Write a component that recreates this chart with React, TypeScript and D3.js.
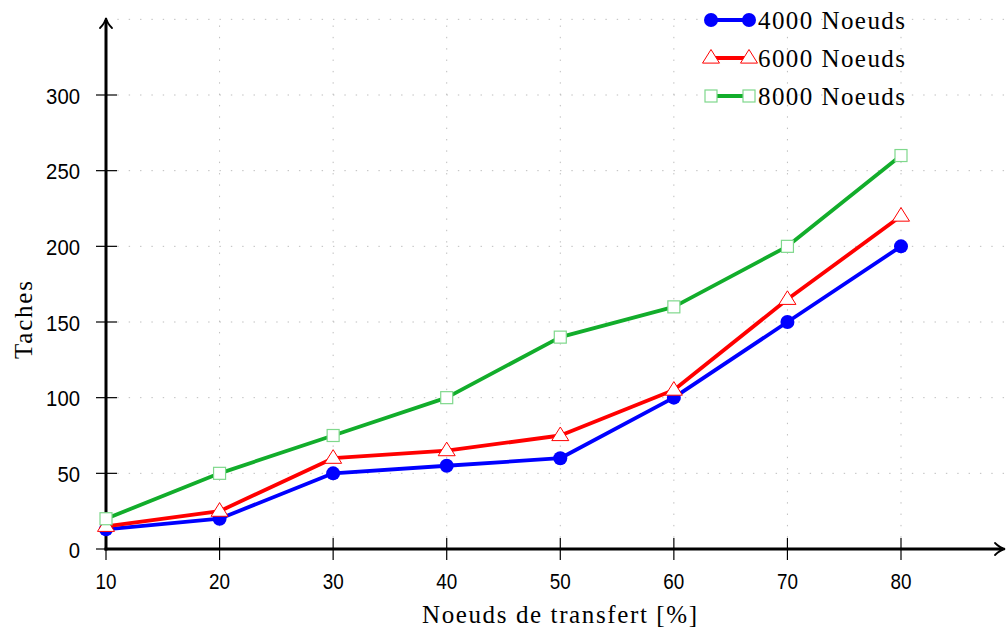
import React from "react";
import * as d3 from "d3";

const xValues = [10, 20, 30, 40, 50, 60, 70, 80];
const s4000 = [13, 20, 50, 55, 60, 100, 150, 200];
const s6000 = [15, 25, 60, 65, 75, 105, 165, 220];
const s8000 = [20, 50, 75, 100, 140, 160, 200, 260];
const seriesNames = ["4000 Noeuds", "6000 Noeuds", "8000 Noeuds"];
const yTicks = [0, 50, 100, 150, 200, 250, 300];
const yGrid = [0, 50, 100, 150, 200, 250, 300, 350];

const W = 1007;
const H = 639;

export default function App() {
  const x = d3.scaleLinear().domain([10, 80]).range([106, 901]);
  const y = d3.scaleLinear().domain([0, 300]).range([549, 95]);
  const xEnd = 1005;
  const yTop = 18;

  const series = [
    { name: seriesNames[0], data: s4000, color: "#0000ff", marker: "circle" },
    { name: seriesNames[1], data: s6000, color: "#ff0000", marker: "triangle" },
    { name: seriesNames[2], data: s8000, color: "#12ad2b", marker: "square" },
  ];

  const line = d3
    .line<number>()
    .x((_, i) => x(xValues[i]))
    .y((d) => y(d));

  const marker = (kind: string, cx: number, cy: number, key: string) => {
    if (kind === "circle")
      return <circle key={key} cx={cx} cy={cy} r={7} fill="#0000ff" />;
    if (kind === "triangle") {
      const s = 8.5;
      const p = `M${cx},${cy - s} L${cx + s},${cy + s * 0.6} L${cx - s},${cy + s * 0.6} Z`;
      return <path key={key} d={p} fill="white" stroke="#ff0000" strokeWidth={1} />;
    }
    return (
      <rect key={key} x={cx - 6} y={cy - 6} width={12} height={12} fill="white" stroke="#7fd88c" strokeWidth={1.2} />
    );
  };

  const serif = "'Liberation Serif', 'DejaVu Serif', serif";
  const sans = "'Liberation Sans', 'DejaVu Sans', sans-serif";
  const gridColor = "#bdbdbd";
  const dash = "1.4 9.95";

  const arrowUp = `M${106 - 6},${yTop + 10} Q${106 - 1},${yTop + 5} ${106},${yTop} Q${106 + 1},${yTop + 5} ${106 + 6},${yTop + 10}`;
  const arrowRightPath = `M${xEnd - 10},${549 - 6} Q${xEnd - 5},${549 - 1} ${xEnd},549 Q${xEnd - 5},${549 + 1} ${xEnd - 10},${549 + 6}`;

  return (
    <svg width={W} height={H} style={{ position: "absolute", left: 0, top: 0, background: "white" }}>
      {xValues.map((v) => (
        <line key={"gx" + v} x1={x(v)} x2={x(v)} y1={549} y2={y(350)} stroke={gridColor} strokeWidth={1} strokeDasharray={dash} />
      ))}
      {yGrid.map((v) => (
        <line key={"gy" + v} x1={106} x2={W} y1={y(v)} y2={y(v)} stroke={gridColor} strokeWidth={1} strokeDasharray={dash} />
      ))}

      <line x1={106} x2={106} y1={550.5} y2={yTop + 2} stroke="black" strokeWidth={3} />
      <line x1={104.5} x2={xEnd - 2} y1={549} y2={549} stroke="black" strokeWidth={3} />
      <path d={arrowUp} fill="none" stroke="black" strokeWidth={1.8} strokeLinecap="round" />
      <path d={arrowRightPath} fill="none" stroke="black" strokeWidth={1.8} strokeLinecap="round" />

      {xValues.map((v) => (
        <line key={"tx" + v} x1={x(v)} x2={x(v)} y1={538} y2={560} stroke="black" strokeWidth={1.2} />
      ))}
      {yTicks.map((v) => (
        <line key={"ty" + v} x1={96} x2={117} y1={y(v)} y2={y(v)} stroke="black" strokeWidth={1.2} />
      ))}

      {xValues.map((v) => (
        <text key={"lx" + v} x={x(v)} y={589} textAnchor="middle" fontFamily={sans} fontSize={22} textLength={21} lengthAdjust="spacingAndGlyphs" fill="black">
          {v}
        </text>
      ))}
      {yTicks.map((v) => (
        <text key={"ly" + v} x={80} y={y(v) + 8.5} textAnchor="end" fontFamily={sans} fontSize={22} textLength={String(v).length * 11.3} lengthAdjust="spacingAndGlyphs" fill="black">
          {v}
        </text>
      ))}

      {series.map((s) => (
        <g key={s.name}>
          <path d={line(s.data) || ""} fill="none" stroke={s.color} strokeWidth={3.8} strokeLinejoin="round" />
          {s.data.map((d, i) => marker(s.marker, x(xValues[i]), y(d), s.name + i))}
        </g>
      ))}

      {series.map((s, i) => {
        const cy = 20 + i * 38;
        return (
          <g key={"lg" + i}>
            <line x1={711} x2={749} y1={cy} y2={cy} stroke={s.color} strokeWidth={3.8} />
            {marker(s.marker, 711, cy, "lm1" + i)}
            {marker(s.marker, 749, cy, "lm2" + i)}
            <text x={758} y={cy + 9} fontFamily={serif} fontSize={25} textLength={147} lengthAdjust="spacing" fill="black">
              {s.name}
            </text>
          </g>
        );
      })}

      <text x={559.5} y={623} textAnchor="middle" fontFamily={serif} fontSize={25} textLength={275} lengthAdjust="spacing" fill="black">
        Noeuds de transfert [%]
      </text>
      <text transform="translate(32,320) rotate(-90)" textAnchor="middle" fontFamily={serif} fontSize={25} textLength={78} lengthAdjust="spacing" fill="black">
        Taches
      </text>
    </svg>
  );
}
